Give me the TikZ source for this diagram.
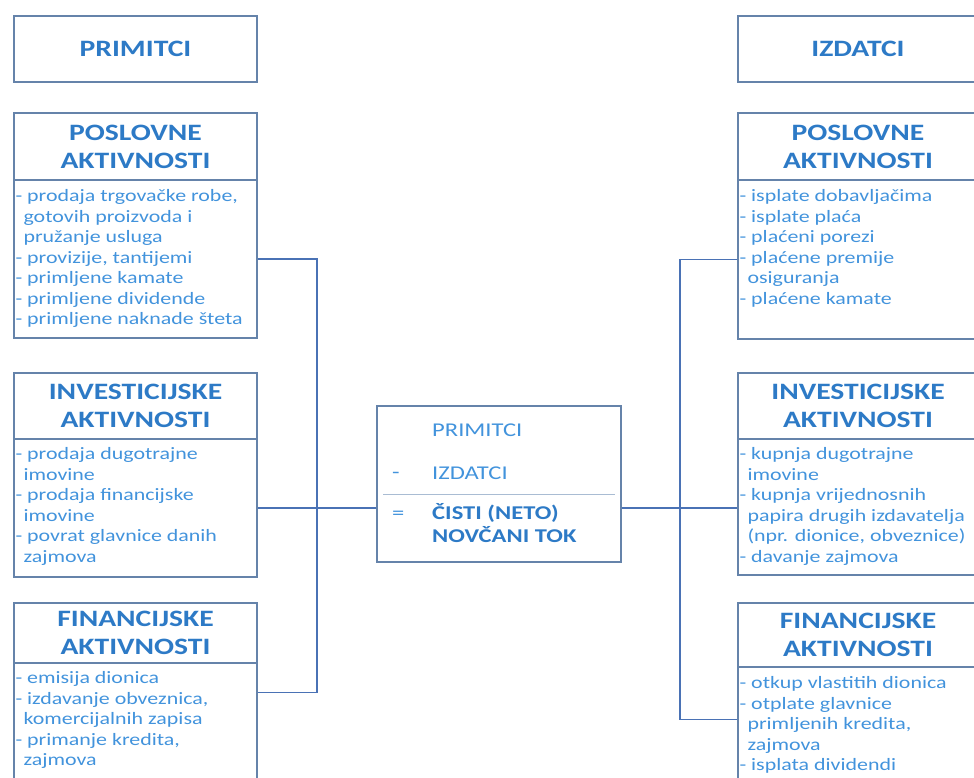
\documentclass[tikz,border=0pt]{standalone}
\usepackage{fontspec}
\setmainfont{Carlito}[FakeStretch=1.26]
\usetikzlibrary{positioning,calc}
\definecolor{Frame}{HTML}{6583AA}
\definecolor{Title}{HTML}{2D7AC6}
\definecolor{Item}{HTML}{4293DC}
\definecolor{Wire}{HTML}{4A72B5}
\definecolor{Rule}{HTML}{A9BCD3}
\newcommand{\headfont}{\fontsize{23.5}{28}\selectfont\bfseries}
\newcommand{\itemfont}{\fontsize{17.4}{20.5}\selectfont}
\newcommand{\sumfont}{\fontsize{19.5}{23}\selectfont}
\newcommand{\cont}{\hspace*{8pt}}
\tikzset{
  head/.style={draw=Frame,line width=1.3pt,minimum height=66pt,inner sep=0pt,
               align=center,font=\headfont,text=Title},
  body/.style={draw=Frame,line width=1.3pt,inner sep=0pt},
  items/.style={anchor=north west,align=left,inner sep=0pt,font=\itemfont,text=Item},
  conn/.style={draw=Wire,line width=1.1pt},
  calc/.style={anchor=west,inner sep=0pt,font=\sumfont,text=Item},
}

\begin{document}
\begin{tikzpicture}[x=1pt,y=-1pt]
      \useasboundingbox (0,0) rectangle (974,778);
      \clip (0,0) rectangle (974,778);

      \node[head,minimum width=243pt] (primL) at (135.5,49) {PRIMITCI};
      \node[head,minimum width=243pt,minimum height=67pt] (posL) at (135.5,146.5) {POSLOVNE\\AKTIVNOSTI};
      \node[body,minimum width=243pt,minimum height=158pt] (posLb) at (135.5,259) {};
      \node[head,minimum width=243pt] (invL) at (135.5,406) {INVESTICIJSKE\\AKTIVNOSTI};
      \node[body,minimum width=243pt,minimum height=138pt] (invLb) at (135.5,508) {};
      \node[head,minimum width=243pt,minimum height=60pt] (finL) at (135.5,633) {FINANCIJSKE\\AKTIVNOSTI};
      \node[body,minimum width=243pt,minimum height=140pt] (finLb) at (135.5,733) {};

      \node[head,minimum width=240pt] (primR) at (858,49) {IZDATCI};
      \node[head,minimum width=240pt,minimum height=67pt] (posR) at (858,146.5) {POSLOVNE\\AKTIVNOSTI};
      \node[body,minimum width=240pt,minimum height=159pt] (posRb) at (858,259.5) {};
      \node[head,minimum width=240pt] (invR) at (858,406) {INVESTICIJSKE\\AKTIVNOSTI};
      \node[body,minimum width=240pt,minimum height=136pt] (invRb) at (858,507) {};
      \node[head,minimum width=240pt,minimum height=64pt] (finR) at (858,635) {FINANCIJSKE\\AKTIVNOSTI};
      \node[body,minimum width=240pt,minimum height=140pt] (finRb) at (858,737) {};

      \node[items] (posLt) at ([xshift=2pt,yshift=-10pt]posLb.north west)
        {- prodaja trgovačke robe,\\ \cont gotovih proizvoda i\\ \cont pružanje usluga\\
         - provizije, tantijemi\\ - primljene kamate\\ - primljene dividende\\
         - primljene naknade šteta};
      \node[items] (invLt) at ([xshift=2pt,yshift=-9pt]invLb.north west)
        {- prodaja dugotrajne\\ \cont imovine\\ - prodaja financijske\\ \cont imovine\\
         - povrat glavnice danih\\ \cont zajmova};
      \node[items] (finLt) at ([xshift=2pt,yshift=-9pt]finLb.north west)
        {- emisija dionica\\ - izdavanje obveznica,\\ \cont komercijalnih zapisa\\
         - primanje kredita,\\ \cont zajmova};
      \node[items] (posRt) at ([xshift=2pt,yshift=-10pt]posRb.north west)
        {- isplate dobavljačima\\ - isplate plaća\\ - plaćeni porezi\\
         - plaćene premije\\ \cont osiguranja\\ - plaćene kamate};
      \node[items] (invRt) at ([xshift=2pt,yshift=-9pt]invRb.north west)
        {- kupnja dugotrajne\\ \cont imovine\\ - kupnja vrijednosnih\\
         \cont papira drugih izdavatelja\\ \cont (npr. dionice, obveznice)\\ - davanje zajmova};
      \node[items] (finRt) at ([xshift=2pt,yshift=-10pt]finRb.north west)
        {- otkup vlastitih dionica\\ - otplate glavnice\\ \cont primljenih kredita,\\
         \cont zajmova\\ - isplata dividendi};

      \node[body,minimum width=244pt,minimum height=156pt] (cent) at (499,484) {};
      \draw[Rule,line width=1pt] (383,494) -- (615,494);
      \node[calc] (plus) at (432,430) {PRIMITCI};
      \node[calc] (minus) at (392,475) {-};
      \node[calc] (out) at (432,473) {IZDATCI};
      \node[calc] (eq) at (392,515) {=};
      \node[calc,align=left,anchor=north west,font=\sumfont\bfseries,text=Title] (net)
        at (432,503) {ČISTI (NETO)\\NOVČANI TOK};

      \coordinate (busL) at (317,0);
      \coordinate (busR) at (680,0);
      \coordinate (finLc) at ($(finLb.north east)+(0,30)$);
      \coordinate (finRc) at ($(finRb.north west)+(0,53)$);
      \draw[conn] (posLb.east) -- (posLb.east -| busL) -- (busL |- finLc) -- (finLc);
      \draw[conn] (invLb.east) -- (invLb.east -| cent.west);
      \draw[conn] (posRb.west) -- (posRb.west -| busR) -- (busR |- finRc) -- (finRc);
      \draw[conn] (cent.east |- invLb.east) -- (invRb.west |- invLb.east);
    \end{tikzpicture}
\end{document}
